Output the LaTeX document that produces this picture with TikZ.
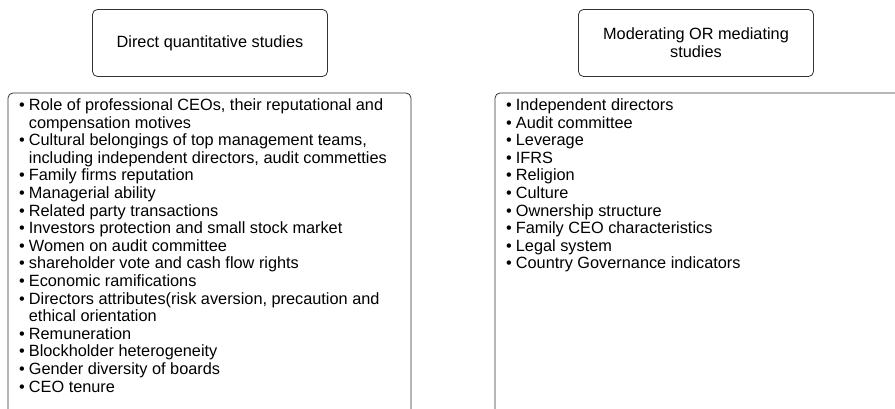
\documentclass[tikz,border=0pt]{standalone}
\usepackage{fontspec}
\setmainfont{Liberation Sans}
\tikzset{
  titlebox/.style={draw=black!80, line width=0.8pt, rounded corners=5pt, minimum width=235pt, minimum height=67pt, align=center, font=\fontsize{16.3}{18}\selectfont},
  listbox/.style={draw=black!80, line width=0.8pt, rounded corners=5pt},
  listtext/.style={anchor=north west, inner sep=0pt, align=left, font=\fontsize{16.3}{17.6}\selectfont}
}
\newcommand{\bl}{\textbullet}
\begin{document}
\begin{tikzpicture}[x=1pt,y=-1pt]
\useasboundingbox (0,0) rectangle (895,409);
\begin{scope}
\clip (0,0) rectangle (895,409);
\node[titlebox] (t1) at (210,43) {Direct quantitative studies};
\node[titlebox] (t2) at (696,43) {Moderating OR mediating\\studies};
\draw[listbox] (8,430) |- (411,93) -- (411,430);
\draw[listbox] (495,430) |- (910,93);
\node[listtext] (l1) at (19,98) {\begin{tabular}{@{}l@{\hspace{4pt}}l@{}}
\bl & Role of professional CEOs, their reputational and\\
 & compensation motives\\
\bl & Cultural belongings of top management teams,\\
 & including independent directors, audit commetties\\
\bl & Family firms reputation\\
\bl & Managerial ability\\
\bl & Related party transactions\\
\bl & Investors protection and small stock market\\
\bl & Women on audit committee\\
\bl & shareholder vote and cash flow rights\\
\bl & Economic ramifications\\
\bl & Directors attributes(risk aversion, precaution and\\
 & ethical orientation\\
\bl & Remuneration\\
\bl & Blockholder heterogeneity\\
\bl & Gender diversity of boards\\
\bl & CEO tenure
\end{tabular}};
\node[listtext] (l2) at (506,98) {\begin{tabular}{@{}l@{\hspace{4pt}}l@{}}
\bl & Independent directors\\
\bl & Audit committee\\
\bl & Leverage\\
\bl & IFRS\\
\bl & Religion\\
\bl & Culture\\
\bl & Ownership structure\\
\bl & Family CEO characteristics\\
\bl & Legal system\\
\bl & Country Governance indicators
\end{tabular}};
\end{scope}
\end{tikzpicture}
\end{document}
